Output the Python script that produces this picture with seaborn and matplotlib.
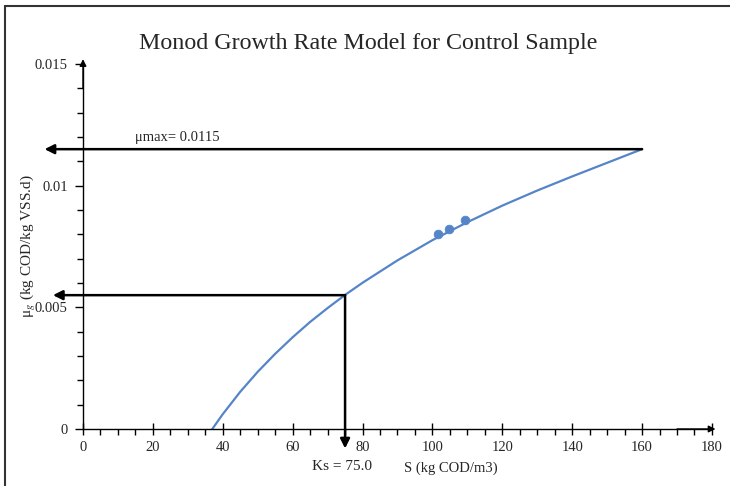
import matplotlib
matplotlib.use('Agg')
import matplotlib.pyplot as plt
import seaborn as sns
from matplotlib.lines import Line2D
from matplotlib.ticker import MultipleLocator

# fitted curve
s_curve = [37, 40, 45, 50, 55, 60, 65, 70, 75, 80, 90, 100, 110, 120, 130, 140, 150, 160]
mu_curve = [0.0, 0.00061, 0.00153, 0.00235, 0.00309, 0.00377, 0.00440, 0.00497, 0.00551,
            0.00601, 0.00693, 0.00776, 0.00850, 0.00918, 0.00980, 0.01038, 0.01094, 0.0115]

# measured points
s_obs = [101.6, 104.7, 109.3]
mu_obs = [0.00801, 0.00822, 0.00859]

mu_max = 0.0115
ks = 75.0
mu_half = 0.0055

sns.set_style('white')
plt.rcParams['font.family'] = ['Liberation Serif', 'DejaVu Serif']
plt.rcParams['mathtext.fontset'] = 'stix'

blue = '#5585C8'

fig = plt.figure(figsize=(7.3, 4.86), dpi=100)
ax = fig.add_axes([0.1137, 0.1173, 0.8616, 0.751])

sns.lineplot(x=s_curve, y=mu_curve, ax=ax, color=blue, lw=1.6)
sns.scatterplot(x=s_obs, y=mu_obs, ax=ax, color=blue, s=40, edgecolor=blue, zorder=5)

ax.set_xlim(0, 180)
ax.set_ylim(0, 0.015)
ax.xaxis.set_major_locator(MultipleLocator(20))
ax.xaxis.set_minor_locator(MultipleLocator(5))
ax.set_yticks([0, 0.005, 0.01, 0.015])
ax.set_yticklabels(['0', '0.005', '0.01', '0.015'])
ax.yaxis.set_minor_locator(MultipleLocator(0.001))

for side in ['top', 'right']:
    ax.spines[side].set_visible(False)
for side in ['left', 'bottom']:
    ax.spines[side].set_color('black')
    ax.spines[side].set_linewidth(1.0)

ax.tick_params(which='both', bottom=True, left=True, color='black')
ax.tick_params(axis='x', which='major', direction='inout', length=8, width=1, labelsize=10.5, pad=5)
ax.tick_params(axis='x', which='minor', direction='out', length=4, width=1)
ax.tick_params(axis='y', which='major', direction='out', length=6, width=1, labelsize=10.5, pad=5)
ax.tick_params(axis='y', which='minor', direction='out', length=4, width=1)

# axis arrowheads
ax.annotate('', xy=(0, 0.0152), xytext=(0, 0.0140),
            arrowprops=dict(arrowstyle='-|>', color='black', lw=1, mutation_scale=10,
                            shrinkA=0, shrinkB=0),
            annotation_clip=False)
ax.annotate('', xy=(181, 0), xytext=(170, 0),
            arrowprops=dict(arrowstyle='-|>', color='black', lw=1, mutation_scale=10,
                            shrinkA=0, shrinkB=0),
            annotation_clip=False)

# mu max and Ks arrows
arrow = dict(arrowstyle='-|>', color='black', lw=1.8, mutation_scale=14, shrinkA=0, shrinkB=0)
ax.annotate('', xy=(-11, mu_max), xytext=(160, mu_max), arrowprops=arrow, annotation_clip=False)
ax.annotate('', xy=(-8.6, mu_half), xytext=(ks, mu_half), arrowprops=arrow, annotation_clip=False)
ax.annotate('', xy=(ks, -0.0008), xytext=(ks, mu_half), arrowprops=arrow, annotation_clip=False)

ax.text(14.9, 0.0120, 'μmax= 0.0115', fontsize=10.5, ha='left', va='center')
ax.text(ks - 1.0, -0.00155, 'Ks = 75.0', fontsize=11, ha='center', va='center', clip_on=False)

ax.set_xlabel('S (kg COD/m3)', fontsize=10.5)
ax.xaxis.set_label_coords(0.585, -0.088)
ax.set_ylabel('μ$_g$ (kg COD/kg VSS.d)', fontsize=11)
ax.yaxis.set_label_coords(-0.072, 0.5)

fig.text(0.505, 0.911, 'Monod Growth Rate Model for Control Sample', fontsize=17.3,
         ha='center', va='center')

# frame of the original picture (top and left edges)
fig.add_artist(Line2D([5 / 730, 5 / 730], [0, 1 - 6 / 486], color='#333333', lw=1.5))
fig.add_artist(Line2D([5 / 730, 1], [1 - 6 / 486, 1 - 6 / 486], color='#333333', lw=1.5))

fig.savefig('out.png', dpi=100)
